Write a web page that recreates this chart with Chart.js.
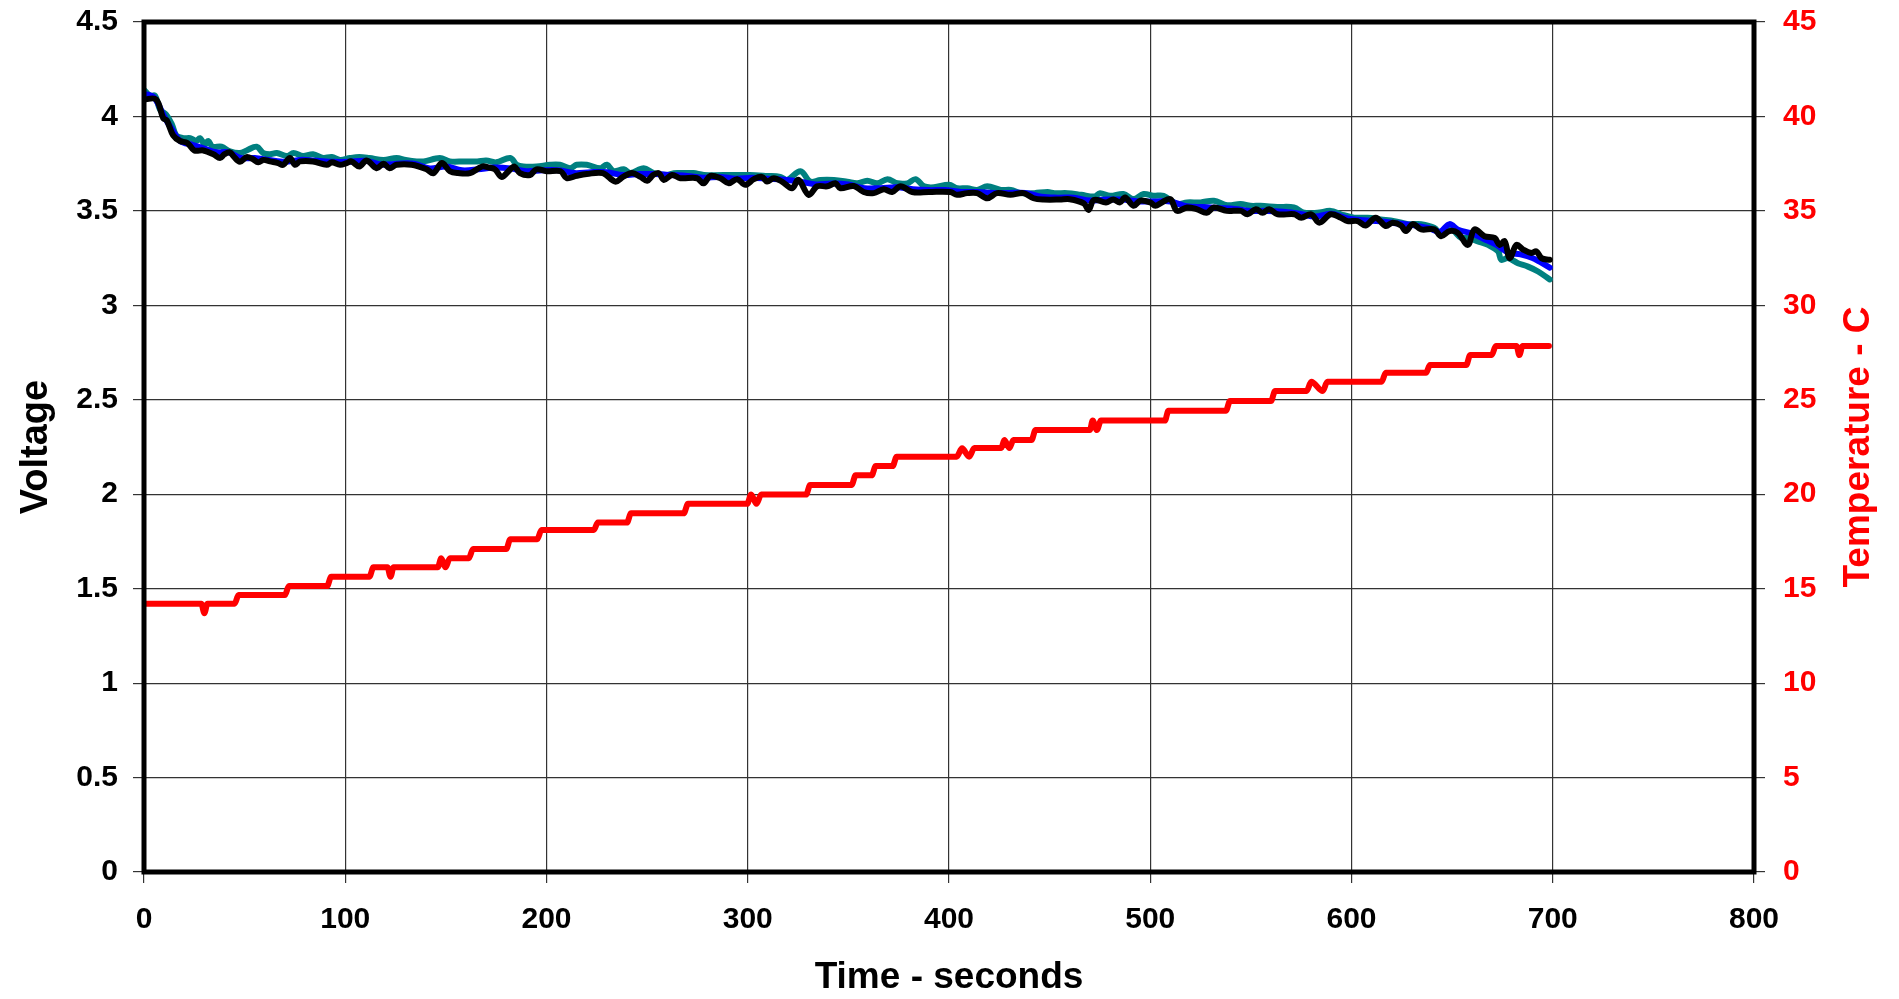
<!DOCTYPE html>
<html>
<head>
<meta charset="utf-8">
<title>Voltage and temperature</title>
<script src="https://cdn.jsdelivr.net/npm/chart.js@4"></script>
<style>
  html, body { margin: 0; padding: 0; background: #fff; }
  #wrap { width: 1899px; height: 999px; position: relative; }
</style>
</head>
<body>
<div id="wrap"><canvas id="chart"></canvas></div>
<script>
// values (time in seconds)
const blackTime = [0, 6, 9.6, 11.3, 14.5, 17.9, 21.5, 25, 29.5, 34.5, 37.8, 40, 42.7, 44.4, 47.7, 51, 54, 56.8, 59.3, 62.6,
    66.7, 69.2, 72.5, 75, 77.5, 84, 90.8, 93.3, 97.4, 100.7, 103, 107, 110.6, 115.6, 119, 122, 125.5, 133, 140.5, 143.8,
    148, 152, 156, 162, 168, 171, 174.4, 177.7, 182, 184, 186.8, 191.8, 195, 200, 207, 210, 215, 220, 228, 234.2,
    238, 242.5, 246.7, 250, 253, 255.8, 258.3, 262.4, 266.5, 274.8, 278, 281.4, 286.4, 290.6, 294.7, 298.8, 303, 307, 309.6, 312.9,
    317, 322, 325.2, 330.3, 334.5, 339.5, 343.6, 346, 352.7, 357.6, 362.6, 367.6, 371.7, 375.9, 381.7, 390, 400.7, 404, 409, 414,
    419, 423.9, 430.5, 437, 442, 447, 455, 460, 467, 469.4, 472, 478, 481.6, 485, 487.5, 491.7, 495, 500, 502.5, 505.8,
    510, 513.3, 518.3, 523, 528, 531.6, 538, 545, 548.3, 552.5, 555.8, 559.1, 563.3, 571.6, 575, 580, 584, 589.7, 594.7, 598,
    603, 607, 612, 617, 620.4, 624.6, 627, 630.4, 634.6, 641.2, 644.5, 648.7, 652.8, 657.8, 661.1, 666.1, 671.1, 673.6, 676.1, 678.6,
    682, 685.3, 689.4, 691.9, 694.4, 698.5];
const blackVolt = [4.09, 4.09, 3.99, 3.98, 3.90, 3.87, 3.86, 3.82, 3.82, 3.80, 3.78, 3.80, 3.81, 3.79, 3.76, 3.785, 3.775, 3.757, 3.77, 3.762,
    3.753, 3.744, 3.78, 3.744, 3.762, 3.762, 3.744, 3.757, 3.744, 3.753, 3.762, 3.735, 3.767, 3.726, 3.75, 3.726, 3.744, 3.744, 3.72, 3.70,
    3.753, 3.71, 3.70, 3.70, 3.735, 3.73, 3.72, 3.68, 3.72, 3.735, 3.70, 3.69, 3.72, 3.71, 3.71, 3.674, 3.686, 3.695, 3.70, 3.655,
    3.68, 3.70, 3.68, 3.66, 3.69, 3.70, 3.664, 3.69, 3.673, 3.673, 3.646, 3.685, 3.673, 3.646, 3.668, 3.638, 3.668, 3.68, 3.655, 3.673,
    3.655, 3.62, 3.664, 3.585, 3.63, 3.63, 3.646, 3.62, 3.632, 3.60, 3.594, 3.615, 3.60, 3.63, 3.60, 3.60, 3.60, 3.585, 3.594, 3.594,
    3.567, 3.594, 3.585, 3.594, 3.567, 3.56, 3.56, 3.562, 3.54, 3.505, 3.558, 3.545, 3.56, 3.545, 3.571, 3.527, 3.554, 3.545, 3.527, 3.545,
    3.562, 3.50, 3.518, 3.509, 3.49, 3.518, 3.50, 3.50, 3.482, 3.509, 3.49, 3.509, 3.482, 3.482, 3.464, 3.482, 3.4375, 3.482, 3.464, 3.446,
    3.446, 3.423, 3.464, 3.42, 3.4375, 3.423, 3.393, 3.43, 3.402, 3.402, 3.366, 3.393, 3.384, 3.32, 3.402, 3.366, 3.357, 3.32, 3.339, 3.25,
    3.32, 3.295, 3.277, 3.286, 3.25, 3.241];

const tealTime = [0, 3, 5.5, 8, 11, 13.8, 16, 19.5, 23, 26, 27.8, 30, 32, 34, 38.5, 42.7, 47.7, 51, 56, 59.3,
    62.6, 66, 71, 74.3, 79, 84, 89, 93.3, 97.4, 102.4, 107, 112, 119, 125.5, 130, 135.5, 139, 147, 152, 159,
    165.6, 170, 175, 182, 185.2, 188.5, 195, 201.7, 206.7, 211.7, 215, 220, 226.8, 230, 233.4, 238.4, 241.7, 248.3, 253.3, 260,
    263.2, 268.2, 273, 278.2, 293, 301, 309.6, 316.2, 319.5, 326.2, 331.1, 336.1, 342.8, 349.4, 354.4, 359.4, 364.4, 369.4, 374.4, 379.3,
    383.4, 387.6, 392.5, 400, 404.1, 409.1, 414, 419, 425.7, 430.7, 435.7, 442.4, 449, 452.4, 459, 465.7, 472.4, 475, 480, 486.7,
    491.7, 496.7, 501.6, 506.6, 513.3, 518.3, 525, 531.6, 538.2, 544.9, 549.8, 554.8, 563.1, 571.4, 576.4, 583, 589.7, 594.7, 601.3, 608,
    614.6, 621.3, 628, 634.6, 641.2, 644.5, 649.5, 654.5, 657.8, 662.8, 667.8, 672.8, 674.4, 677.7, 682.7, 687.7, 692.7, 698.5];
const tealVolt = [4.14, 4.11, 4.11, 4.035, 4.01, 3.96, 3.90, 3.885, 3.885, 3.87, 3.885, 3.855, 3.87, 3.84, 3.84, 3.815, 3.806, 3.82, 3.84, 3.806,
    3.80, 3.806, 3.79, 3.806, 3.79, 3.80, 3.78, 3.785, 3.77, 3.78, 3.785, 3.78, 3.77, 3.78, 3.77, 3.762, 3.762, 3.78, 3.762, 3.762,
    3.762, 3.767, 3.757, 3.78, 3.744, 3.735, 3.735, 3.744, 3.744, 3.726, 3.744, 3.744, 3.726, 3.744, 3.71, 3.72, 3.70, 3.726, 3.70, 3.69,
    3.70, 3.70, 3.70, 3.69, 3.69, 3.69, 3.685, 3.68, 3.664, 3.71, 3.655, 3.664, 3.664, 3.655, 3.646, 3.66, 3.646, 3.668, 3.646, 3.646,
    3.668, 3.63, 3.625, 3.638, 3.62, 3.62, 3.611, 3.63, 3.611, 3.611, 3.594, 3.594, 3.60, 3.594, 3.594, 3.585, 3.576, 3.594, 3.58, 3.589,
    3.5625, 3.589, 3.58, 3.58, 3.536, 3.545, 3.545, 3.554, 3.53, 3.536, 3.527, 3.527, 3.521, 3.518, 3.49, 3.49, 3.50, 3.482, 3.464, 3.464,
    3.455, 3.446, 3.43, 3.43, 3.41, 3.375, 3.402, 3.357, 3.357, 3.339, 3.32, 3.286, 3.241, 3.25, 3.223, 3.205, 3.179, 3.137];

const blueTime = [0, 5, 10, 14, 18, 24, 30, 36, 42, 48, 55, 62, 70, 78, 86, 94, 102, 110, 118, 126,
    134, 142, 150, 158, 166, 174, 182, 190, 198, 206, 214, 222, 230, 238, 246, 254, 262, 270, 278, 286,
    294, 302, 310, 318, 326, 334, 342, 350, 358, 366, 374, 382, 390, 398, 406, 414, 422, 430, 438, 446,
    454, 462, 470, 478, 486, 494, 502, 510, 518, 526, 534, 542, 550, 558, 566, 574, 582, 590, 598, 606,
    614, 622, 630, 638, 644, 648.7, 653, 660, 666, 672, 678, 684, 690, 698.5];
const blueVolt = [4.12, 4.10, 4.00, 3.93, 3.87, 3.85, 3.83, 3.81, 3.81, 3.78, 3.78, 3.77, 3.76, 3.77, 3.765, 3.76, 3.76, 3.765, 3.745, 3.75,
    3.75, 3.725, 3.735, 3.715, 3.72, 3.73, 3.725, 3.71, 3.715, 3.715, 3.70, 3.705, 3.705, 3.69, 3.695, 3.695, 3.69, 3.685, 3.675, 3.68,
    3.67, 3.675, 3.67, 3.665, 3.655, 3.64, 3.645, 3.64, 3.62, 3.62, 3.625, 3.615, 3.61, 3.61, 3.60, 3.60, 3.595, 3.595, 3.595, 3.575,
    3.57, 3.57, 3.555, 3.56, 3.56, 3.55, 3.55, 3.55, 3.525, 3.52, 3.515, 3.51, 3.50, 3.50, 3.495, 3.485, 3.47, 3.485, 3.46, 3.45,
    3.445, 3.435, 3.425, 3.41, 3.39, 3.43, 3.40, 3.38, 3.35, 3.32, 3.28, 3.27, 3.25, 3.20];

const tempTime = [0, 28.5, 30, 31.5, 45, 47, 70, 72, 91, 93, 112, 114, 121, 122.5, 124, 146, 147.7, 149.8, 152, 161.4,
    163.5, 180, 182, 195.4, 197.5, 223.5, 225.5, 240, 242, 268.2, 270.3, 299.7, 301.7, 304.3, 306.7, 329, 331, 351.6, 353.6, 361.6,
    363.6, 372, 374, 403.8, 406.5, 410, 412.6, 426, 427.5, 430, 432, 441, 443, 470, 471.4, 473.5, 475.5, 507.3, 509, 537.6,
    539.6, 560, 562, 577.7, 580, 585.7, 588, 615, 617, 637, 639, 657, 659, 669.7, 671.7, 682, 683.4, 685, 698.1];
const tempVal = [14.2, 14.2, 13.7, 14.2, 14.2, 14.66, 14.66, 15.14, 15.14, 15.63, 15.63, 16.13, 16.13, 15.63, 16.13, 16.13, 16.61, 16.13, 16.61, 16.61,
    17.1, 17.1, 17.62, 17.62, 18.11, 18.11, 18.5, 18.5, 18.99, 18.99, 19.49, 19.49, 19.98, 19.49, 19.98, 19.98, 20.49, 20.49, 21.0, 21.0,
    21.49, 21.49, 21.99, 21.99, 22.43, 21.99, 22.45, 22.45, 22.87, 22.45, 22.87, 22.87, 23.4, 23.4, 23.9, 23.4, 23.9, 23.9, 24.42, 24.42,
    24.93, 24.93, 25.46, 25.46, 25.96, 25.46, 25.96, 25.96, 26.43, 26.43, 26.84, 26.84, 27.37, 27.37, 27.85, 27.85, 27.37, 27.85, 27.85];

const FONT = "'Liberation Sans', Arial, sans-serif";

const toPoints = (ts, vs) => ts.map((t, i) => ({ x: t, y: vs[i] }));

// keep label overhang from pushing the plot area around
const noOverhang = (scale) => {
    scale.paddingTop = 0;
    scale.paddingBottom = 0;
    scale.paddingLeft = 0;
    scale.paddingRight = 0;
};

// thick frame round the plot area plus the red right-hand title (reads bottom to top)
const framePlugin = {
    id: 'frame',
    afterDatasetsDraw(chart) {
        const { ctx, chartArea: a } = chart;
        ctx.save();
        ctx.strokeStyle = '#000';
        ctx.lineWidth = 5;
        ctx.strokeRect(a.left, a.top, a.right - a.left, a.bottom - a.top);
        ctx.restore();
    },
    afterDraw(chart) {
        const { ctx, chartArea: a } = chart;
        ctx.save();
        ctx.translate(chart.scales.y2.right - 40, (a.top + a.bottom) / 2);
        ctx.rotate(-Math.PI / 2);
        ctx.font = 'bold 37px ' + FONT;
        ctx.fillStyle = '#ff0000';
        ctx.textAlign = 'center';
        ctx.textBaseline = 'middle';
        ctx.fillText('Temperature - C', 0, 0);
        ctx.restore();
    }
};

const gridColor = '#333333';
const tickFont = { family: FONT, size: 30, weight: 'bold' };

new Chart(document.getElementById('chart'), {
    type: 'line',
    data: {
        datasets: [
            { label: 'Cell 1', data: toPoints(blackTime, blackVolt), borderColor: '#000000', borderWidth: 6, order: 1, yAxisID: 'y' },
            { label: 'Cell 2', data: toPoints(blueTime, blueVolt), borderColor: '#0000ff', borderWidth: 6, order: 2, yAxisID: 'y' },
            { label: 'Cell 3', data: toPoints(tealTime, tealVolt), borderColor: '#008080', borderWidth: 6, order: 3, yAxisID: 'y' },
            { label: 'Temperature', data: toPoints(tempTime, tempVal), borderColor: '#ff0000', borderWidth: 6, order: 0,
              yAxisID: 'y2', cubicInterpolationMode: 'monotone' }
        ]
    },
    options: {
        responsive: true,
        maintainAspectRatio: false,
        animation: false,
        events: [],
        layout: { padding: { top: 22, left: 0, right: 0, bottom: 0 } },
        elements: {
            point: { radius: 0 },
            line: { tension: 0.35, borderCapStyle: 'round', borderJoinStyle: 'round' }
        },
        scales: {
            x: {
                type: 'linear',
                min: 0,
                max: 800,
                ticks: { stepSize: 100, color: '#000', padding: 19, font: tickFont },
                grid: { color: gridColor, lineWidth: 1.2, tickLength: 11 },
                border: { display: false },
                title: { display: true, text: 'Time - seconds', color: '#000',
                         font: { family: FONT, size: 37, weight: 'bold', lineHeight: 1.16 }, padding: { top: 0, bottom: 0 } },
                afterFit(scale) { scale.height = 127; noOverhang(scale); }
            },
            y: {
                position: 'left',
                min: 0,
                max: 4.5,
                ticks: { stepSize: 0.5, color: '#000', padding: 15, font: tickFont, callback: (v) => String(v) },
                grid: { color: gridColor, lineWidth: 1.2, tickLength: 11 },
                border: { display: false },
                title: { display: true, text: 'Voltage', color: '#000',
                         font: { family: FONT, size: 38, weight: 'bold', lineHeight: 1.2 }, padding: { top: 14, bottom: 0 } },
                afterFit(scale) { scale.width = 144; noOverhang(scale); }
            },
            y2: {
                position: 'right',
                min: 0,
                max: 45,
                ticks: { stepSize: 5, color: '#ff0000', padding: 18, font: tickFont },
                grid: { drawOnChartArea: false, color: gridColor, lineWidth: 1.2, tickLength: 11 },
                border: { display: false },
                afterFit(scale) { scale.width = 145; noOverhang(scale); }
            }
        },
        plugins: {
            legend: { display: false },
            tooltip: { enabled: false },
            title: { display: false }
        }
    },
    plugins: [framePlugin]
});
</script>
</body>
</html>
